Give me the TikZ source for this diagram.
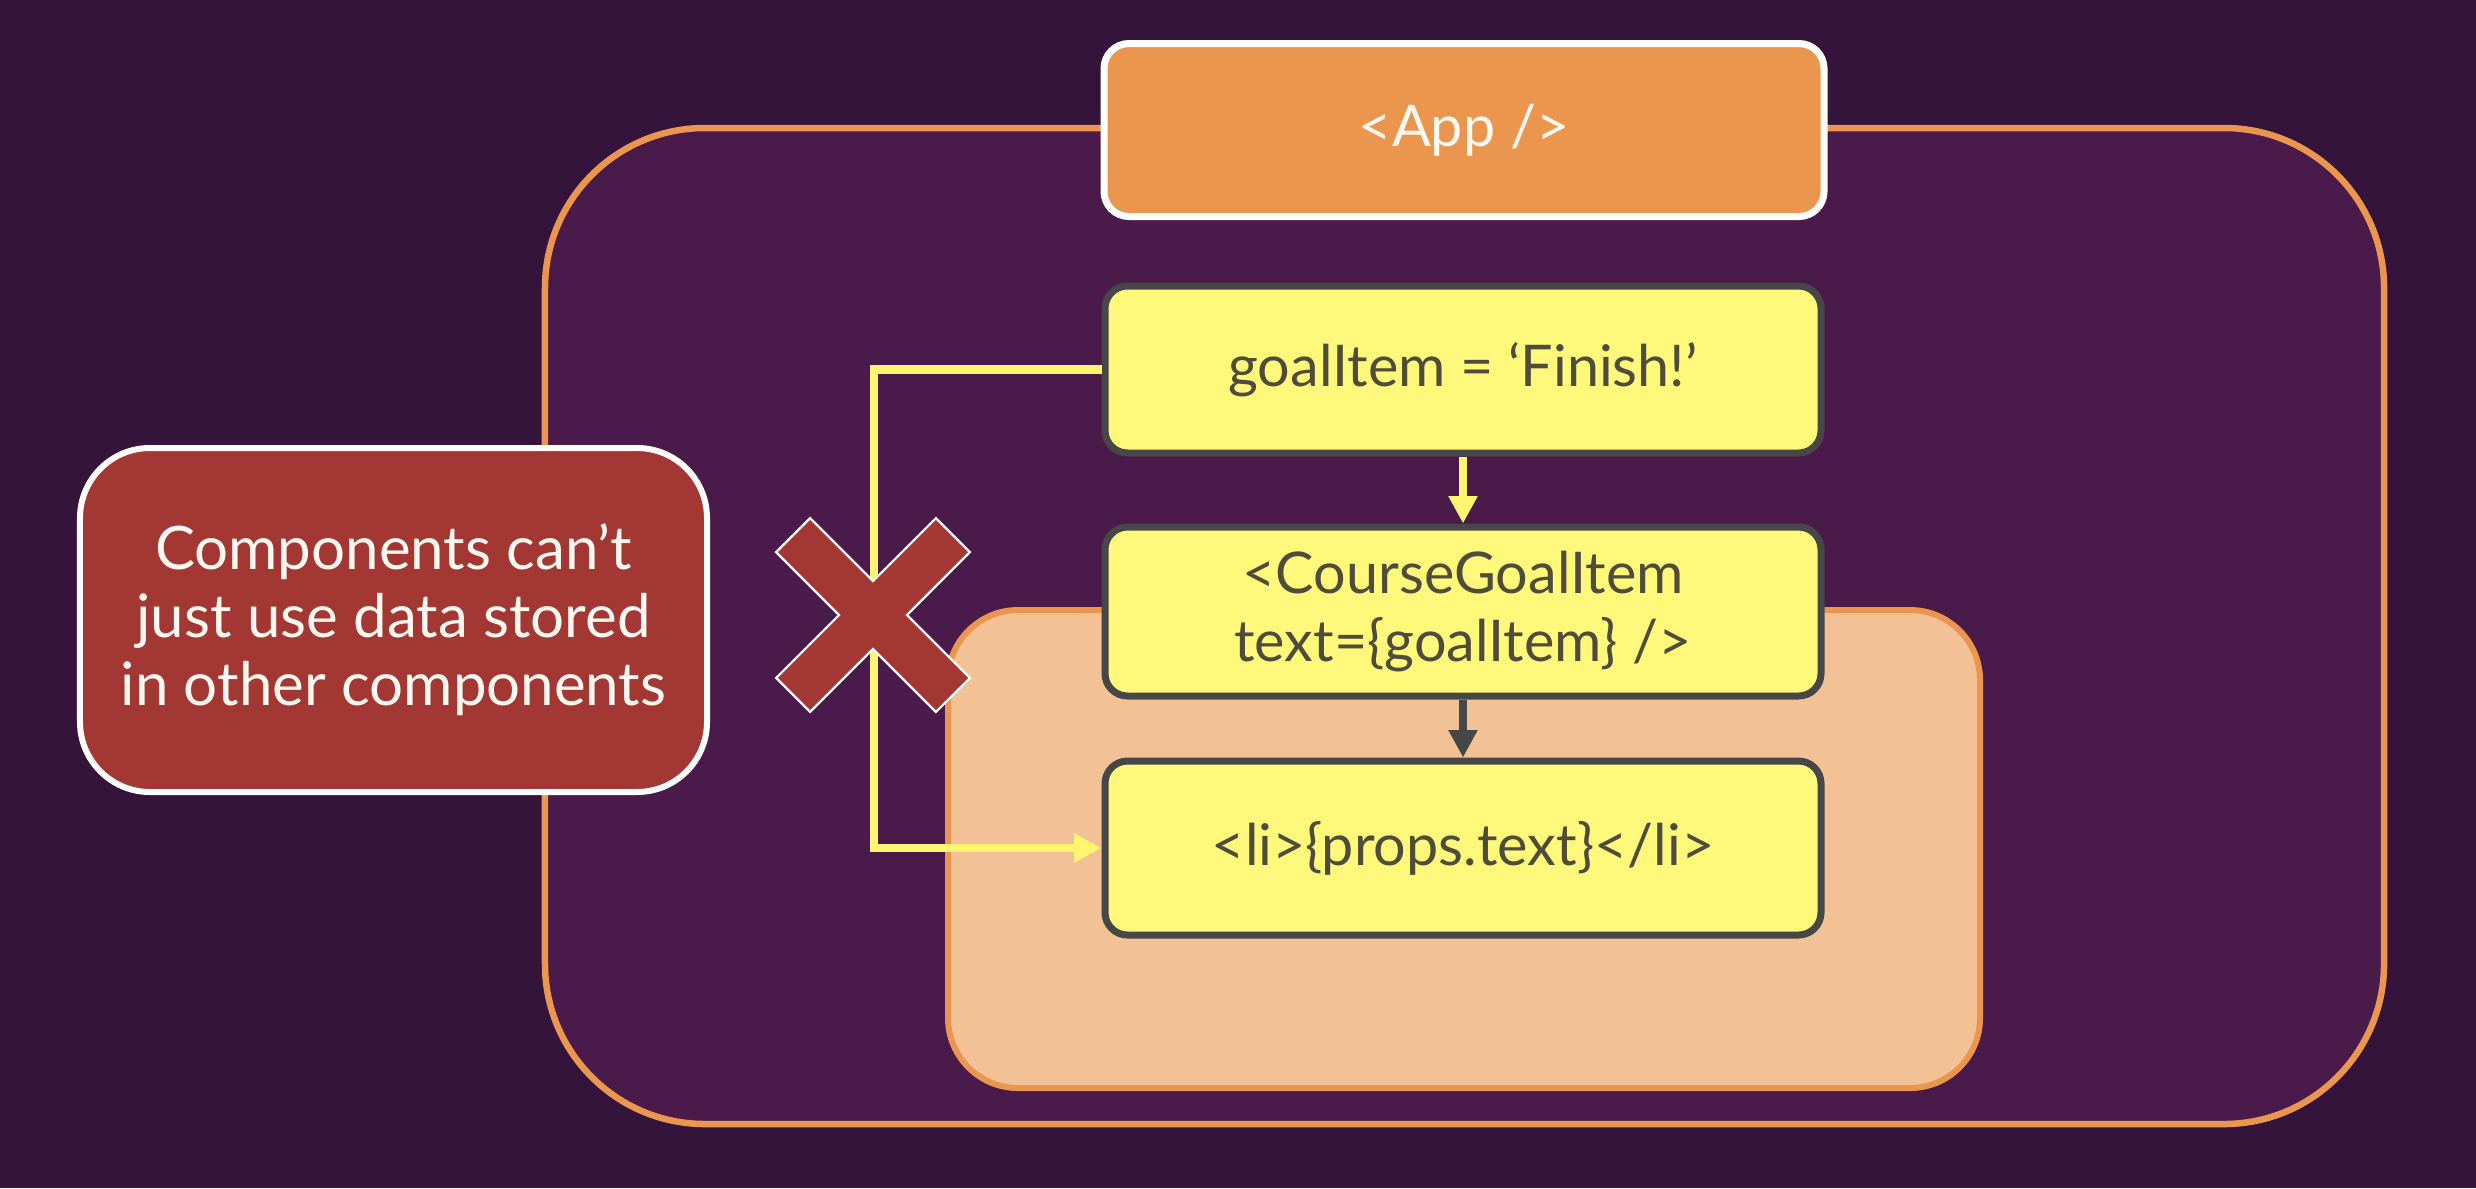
\documentclass[tikz,border=0pt]{standalone}
\usepackage{fontspec}
\setmainfont{Lato}
\usetikzlibrary{arrows.meta}
\definecolor{bgcol}{HTML}{34143A}
\definecolor{outerfill}{HTML}{4A1A4B}
\definecolor{orangec}{HTML}{EA964F}
\definecolor{lightorange}{HTML}{F2C196}
\definecolor{yellowfill}{HTML}{FFF87A}
\definecolor{yellowline}{HTML}{FFF56E}
\definecolor{darkgray}{HTML}{474747}
\definecolor{textgray}{HTML}{4E4C3A}
\definecolor{redc}{HTML}{A33733}
\definecolor{whitetext}{HTML}{FFF8F0}
\begin{document}
\begin{tikzpicture}[x=0.4pt,y=-0.4pt,
  outerbox/.style={draw=orangec, fill=outerfill, line width=2.6pt, rounded corners=64pt, inner sep=0pt},
  innerbox/.style={draw=orangec, fill=lightorange, line width=2.4pt, rounded corners=28pt, inner sep=0pt},
  appbox/.style={draw=white, fill=orangec, line width=2.8pt, rounded corners=10pt, inner sep=0pt,
    minimum width=288pt, minimum height=69.2pt, text=whitetext, font=\fontsize{23}{27}\selectfont},
  codebox/.style={draw=darkgray, fill=yellowfill, line width=2.8pt, rounded corners=9pt, inner sep=0pt,
    minimum width=286.4pt, minimum height=67.6pt, text=textgray, align=center, font=\fontsize{23}{27.2}\selectfont},
  notebox/.style={draw=white, fill=redc, line width=2.4pt, rounded corners=28pt, inner sep=0pt,
    minimum width=250.8pt, minimum height=137.6pt, text=whitetext, align=center, font=\fontsize{24}{27.2}\selectfont},
  xmark/.style={draw=white, fill=redc, line width=0.9pt, line join=miter},
  yarrow/.style={draw=yellowline, line width=3.4pt, -{Triangle[length=11pt,width=11pt]}},
  garrow/.style={draw=darkgray, line width=3.4pt, -{Triangle[length=11pt,width=11pt]}}
]
\fill[bgcol] (0,0) rectangle (2476,1188);
\useasboundingbox (0,0) rectangle (2476,1188);

\node[outerbox, minimum width=735.6pt, minimum height=398.4pt] (outer) at (1464.5,626) {};
\node[innerbox, minimum width=412.8pt, minimum height=191.2pt] (inner) at (1464,849) {};

\node[appbox] (app) at (1464,130) {<App />};

\node[codebox, minimum height=66.8pt] (b1) at (1463,369.5) {goalItem = ‘Finish!’};
\node[codebox] (b2) at (1463,611.5) {<CourseGoalItem\\text=\{goalItem\} />};
\node[codebox, minimum height=69.6pt] (b3) at (1463,848) {<li>\{props.text\}</li>};

\node[notebox] (note) at (393.5,620) {Components can’t\\just use data stored\\in other components};

\coordinate (bend) at (874,0);
\draw[yarrow] (b1.west) -- (b1.west -| bend) -- (b3.west -| bend) -- (b3.west);
\draw[yarrow] (b1.south) -- (b2.north);
\draw[garrow] (b2.south) -- (b3.north);

\begin{scope}[shift={(873,615)}, rotate=45]
\draw[xmark] (24,113) -- (24,24) -- (113,24) -- (113,-24) -- (24,-24) -- (24,-113)
  -- (-24,-113) -- (-24,-24) -- (-113,-24) -- (-113,24) -- (-24,24) -- (-24,113) -- cycle;
\end{scope}
\end{tikzpicture}
\end{document}
